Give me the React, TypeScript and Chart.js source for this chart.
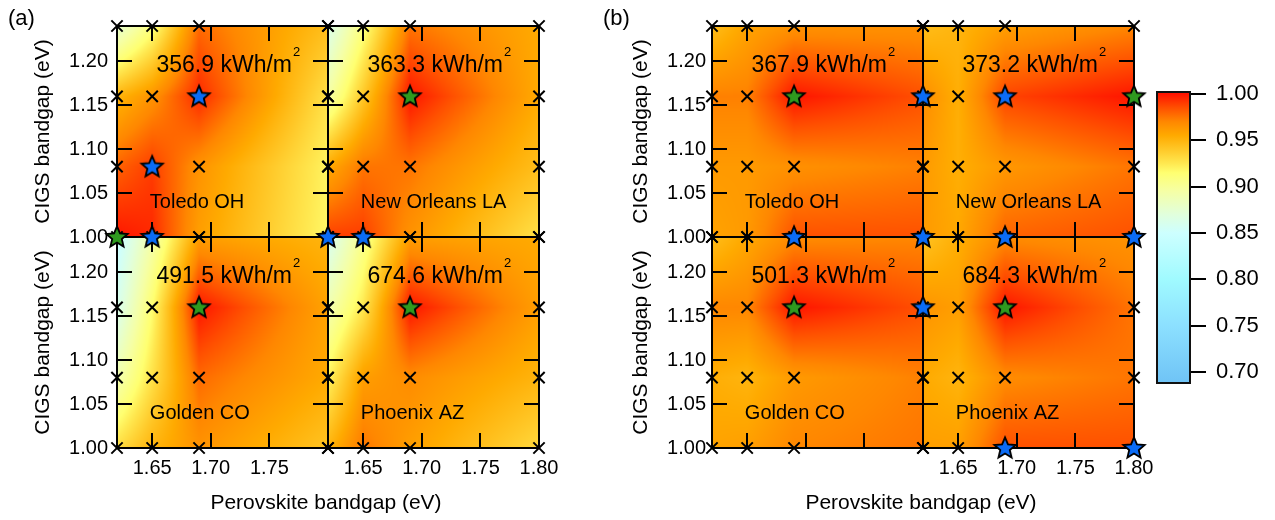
import React, { useEffect, useRef } from 'react';
import { Chart, registerables } from 'chart.js';

Chart.register(...registerables);

const FONT = "'Liberation Sans', Arial, Helvetica, sans-serif";

// ---------- data ----------
const perovskiteGaps = [1.62, 1.65, 1.69, 1.8];
const cigsGaps = [1.0, 1.08, 1.16, 1.24];
const xTickValues = [1.65, 1.7, 1.75, 1.8];
const yTickValues = [1.0, 1.05, 1.1, 1.15, 1.2];
const colorbarTicks = [0.7, 0.75, 0.8, 0.85, 0.9, 0.95, 1.0];

const cities = ['Toledo OH', 'New Orleans LA', 'Golden CO', 'Phoenix AZ'];
const energyA = ['356.9', '363.3', '491.5', '674.6'];
const energyB = ['367.9', '373.2', '501.3', '684.3'];

// rows: CIGS 1.00, 1.08, 1.16, 1.24 ; columns: perovskite 1.62, 1.65, 1.69, 1.80
const toledoA = [
  [1.0, 0.995, 0.96, 0.918],
  [0.98, 0.99, 0.965, 0.92],
  [0.95, 0.965, 0.995, 0.928],
  [0.875, 0.91, 0.978, 0.945],
];
const newOrleansA = [
  [0.99, 0.99, 0.965, 0.928],
  [0.955, 0.975, 0.975, 0.945],
  [0.895, 0.94, 1.0, 0.955],
  [0.862, 0.91, 0.975, 0.955],
];
const goldenA = [
  [0.93, 0.95, 0.965, 0.942],
  [0.89, 0.928, 0.978, 0.955],
  [0.86, 0.915, 1.0, 0.958],
  [0.845, 0.893, 0.96, 0.95],
];
const phoenixA = [
  [0.95, 0.975, 0.96, 0.932],
  [0.92, 0.96, 0.968, 0.95],
  [0.89, 0.925, 1.0, 0.96],
  [0.858, 0.905, 0.96, 0.955],
];
const toledoB = [
  [0.958, 0.962, 0.985, 0.985],
  [0.962, 0.962, 0.966, 0.972],
  [0.972, 0.972, 1.0, 0.985],
  [0.945, 0.958, 0.965, 0.966],
];
const newOrleansB = [
  [0.962, 0.956, 0.98, 0.985],
  [0.962, 0.953, 0.963, 0.975],
  [0.968, 0.953, 0.988, 1.0],
  [0.945, 0.95, 0.96, 0.97],
];
const goldenB = [
  [0.958, 0.96, 0.97, 0.975],
  [0.953, 0.95, 0.962, 0.972],
  [0.97, 0.97, 1.0, 0.985],
  [0.945, 0.956, 0.968, 0.97],
];
const phoenixB = [
  [0.96, 0.96, 0.985, 0.985],
  [0.955, 0.95, 0.968, 0.975],
  [0.965, 0.96, 1.0, 0.975],
  [0.942, 0.953, 0.968, 0.965],
];

// markers: x = simulated point, b = blue star, g = green star (same row/column order)
const toledoAMarks = ['gbxx', 'xbxx', 'xxbx', 'xxxx'];
const newOrleansAMarks = ['bbxx', 'xxxx', 'xxgx', 'xxxx'];
const goldenAMarks = ['xxxx', 'xxxx', 'xxgx', 'xxxx'];
const phoenixAMarks = ['xxxx', 'xxxx', 'xxgx', 'xxxx'];
const toledoBMarks = ['xxbb', 'xxxx', 'xxgb', 'xxxx'];
const newOrleansBMarks = ['xxbb', 'xxxx', 'xxbg', 'xxxx'];
const goldenBMarks = ['xxxx', 'xxxx', 'xxgb', 'xxxx'];
const phoenixBMarks = ['xxbb', 'xxxx', 'xxgx', 'xxxx'];

// ---------- style ----------
const cmapValues = [0.69, 0.75, 0.8, 0.85, 0.87, 0.895, 0.915, 0.925, 0.94, 0.955, 0.97, 0.985, 1.0];
const cmapColors = [
  [112, 196, 246], [140, 224, 255], [160, 250, 255], [205, 255, 255], [225, 255, 220],
  [245, 255, 165], [255, 255, 112], [255, 232, 80], [255, 200, 40], [255, 170, 0],
  [255, 135, 0], [255, 80, 0], [255, 20, 0],
];
const BLUE = '#0b6cf6';
const GREEN = '#2f9a1f';
const PLOT_TOP = 26;
const PLOT_BOTTOM = 448;
const TICK = 15;
const energyLabelX = 1.715;
const energyLabelY = 1.188;
const cityLabelX = 1.648;
const cityLabelY = 1.033;

function colorFor(v: number): number[] {
  if (v <= cmapValues[0]) return cmapColors[0];
  const n = cmapValues.length;
  if (v >= cmapValues[n - 1]) return cmapColors[n - 1];
  let i = 0;
  while (i < n - 2 && v > cmapValues[i + 1]) i++;
  const t = (v - cmapValues[i]) / (cmapValues[i + 1] - cmapValues[i]);
  const a = cmapColors[i], b = cmapColors[i + 1];
  return [0, 1, 2].map((k) => Math.round(a[k] + (b[k] - a[k]) * t));
}

function seg(arr: number[], v: number): [number, number] {
  let i = 0;
  while (i < arr.length - 2 && v > arr[i + 1]) i++;
  let t = (v - arr[i]) / (arr[i + 1] - arr[i]);
  t = Math.max(0, Math.min(1, t));
  return [i, t];
}

function interp(grid: number[][], xv: number, yv: number) {
  const [i, tx] = seg(perovskiteGaps, xv);
  const [j, ty] = seg(cigsGaps, yv);
  const v00 = grid[j][i], v10 = grid[j][i + 1], v01 = grid[j + 1][i], v11 = grid[j + 1][i + 1];
  return (v00 * (1 - tx) + v10 * tx) * (1 - ty) + (v01 * (1 - tx) + v11 * tx) * ty;
}

function makeStar(fill: string) {
  const size = 30;
  const c = document.createElement('canvas');
  c.width = size;
  c.height = size;
  const g = c.getContext('2d')!;
  const R = 11.2, r = R * 0.45, cx = 15, cy = 15.5;
  g.beginPath();
  for (let k = 0; k < 10; k++) {
    const ang = -Math.PI / 2 + (k * Math.PI) / 5;
    const rad = k % 2 === 0 ? R : r;
    const px = cx + rad * Math.cos(ang), py = cy + rad * Math.sin(ang);
    if (k === 0) g.moveTo(px, py);
    else g.lineTo(px, py);
  }
  g.closePath();
  g.fillStyle = fill;
  g.fill();
  g.lineWidth = 1.8;
  g.strokeStyle = '#000';
  g.lineJoin = 'miter';
  g.stroke();
  return c;
}

type Sub = { x: string; y: string; values: number[][]; marks: string[]; energy: string; city: string };
type Panel = {
  left: number; width: number; plotLeft: number; plotRight: number; label: string; labelX: number;
  titleOffset: number; yTickPad: number; leftXLabels: boolean; subplots: Sub[];
};

const panelA: Panel = {
  left: 0, width: 600, plotLeft: 117, plotRight: 539, label: '(a)', labelX: 8, titleOffset: 74, yTickPad: 9,
  leftXLabels: true,
  subplots: [
    { x: 'xL', y: 'yT', values: toledoA, marks: toledoAMarks, energy: energyA[0], city: cities[0] },
    { x: 'xR', y: 'yT', values: newOrleansA, marks: newOrleansAMarks, energy: energyA[1], city: cities[1] },
    { x: 'xL', y: 'yB', values: goldenA, marks: goldenAMarks, energy: energyA[2], city: cities[2] },
    { x: 'xR', y: 'yB', values: phoenixA, marks: phoenixAMarks, energy: energyA[3], city: cities[3] },
  ],
};
const panelB: Panel = {
  left: 590, width: 590, plotLeft: 122, plotRight: 544, label: '(b)', labelX: 13, titleOffset: 71, yTickPad: 6,
  leftXLabels: false,
  subplots: [
    { x: 'xL', y: 'yT', values: toledoB, marks: toledoBMarks, energy: energyB[0], city: cities[0] },
    { x: 'xR', y: 'yT', values: newOrleansB, marks: newOrleansBMarks, energy: energyB[1], city: cities[1] },
    { x: 'xL', y: 'yB', values: goldenB, marks: goldenBMarks, energy: energyB[2], city: cities[2] },
    { x: 'xR', y: 'yB', values: phoenixB, marks: phoenixBMarks, energy: energyB[3], city: cities[3] },
  ],
};

function drawHeatmap(ctx: CanvasRenderingContext2D, xs: any, ys: any, values: number[][]) {
  const left = Math.round(xs.left), right = Math.round(xs.right);
  const top = Math.round(ys.top), bottom = Math.round(ys.bottom);
  const w = right - left, h = bottom - top;
  const off = document.createElement('canvas');
  off.width = w;
  off.height = h;
  const octx = off.getContext('2d')!;
  const img = octx.createImageData(w, h);
  for (let j = 0; j < h; j++) {
    const yv = ys.getValueForPixel(top + j + 0.5);
    for (let i = 0; i < w; i++) {
      const xv = xs.getValueForPixel(left + i + 0.5);
      const c = colorFor(interp(values, xv, yv));
      const k = (j * w + i) * 4;
      img.data[k] = c[0];
      img.data[k + 1] = c[1];
      img.data[k + 2] = c[2];
      img.data[k + 3] = 255;
    }
  }
  octx.putImageData(img, 0, 0);
  ctx.drawImage(off, left, top);
}

function drawFrame(ctx: CanvasRenderingContext2D, xs: any, ys: any) {
  ctx.save();
  ctx.strokeStyle = '#000';
  ctx.lineWidth = 2;
  ctx.beginPath();
  const t = Math.round(ys.top), b = Math.round(ys.bottom), l = Math.round(xs.left), r = Math.round(xs.right);
  for (const v of xTickValues) {
    const px = Math.round(xs.getPixelForValue(v));
    ctx.moveTo(px, b);
    ctx.lineTo(px, b - TICK);
    ctx.moveTo(px, t);
    ctx.lineTo(px, t + TICK);
  }
  for (const v of yTickValues) {
    const py = Math.round(ys.getPixelForValue(v));
    ctx.moveTo(l, py);
    ctx.lineTo(l + TICK, py);
    ctx.moveTo(r, py);
    ctx.lineTo(r - TICK, py);
  }
  ctx.stroke();
  ctx.strokeRect(l, t, r - l, b - t);
  ctx.restore();
}

function drawLabels(ctx: CanvasRenderingContext2D, xs: any, ys: any, sp: Sub) {
  ctx.save();
  ctx.fillStyle = '#000';
  ctx.textBaseline = 'alphabetic';
  ctx.textAlign = 'left';
  const main = sp.energy + ' kWh/m';
  ctx.font = `23px ${FONT}`;
  const w1 = ctx.measureText(main).width;
  ctx.font = `13px ${FONT}`;
  const w2 = ctx.measureText('2').width;
  const cx = xs.getPixelForValue(energyLabelX);
  const by = ys.getPixelForValue(energyLabelY);
  const start = cx - (w1 + w2 + 1) / 2;
  ctx.font = `23px ${FONT}`;
  ctx.fillText(main, start, by);
  ctx.font = `13px ${FONT}`;
  ctx.fillText('2', start + w1 + 1, by - 16);
  ctx.font = `20px ${FONT}`;
  ctx.fillText(sp.city, xs.getPixelForValue(cityLabelX), ys.getPixelForValue(cityLabelY));
  ctx.restore();
}

function markerDatasets(sp: Sub, blueStar: HTMLCanvasElement, greenStar: HTMLCanvasElement) {
  const pts: Record<string, { x: number; y: number }[]> = { x: [], b: [], g: [] };
  sp.marks.forEach((row, j) =>
    row.split('').forEach((code, i) => pts[code].push({ x: perovskiteGaps[i], y: cigsGaps[j] }))
  );
  const common = { xAxisID: sp.x, yAxisID: sp.y, clip: false as any, showLine: false };
  return [
    {
      ...common, data: pts.x, pointStyle: 'crossRot', pointRadius: 8, borderWidth: 2, pointBorderWidth: 2,
      borderColor: '#000', backgroundColor: '#000', order: 2,
    },
    { ...common, data: pts.b, pointStyle: blueStar, pointRadius: 12, borderWidth: 0, order: 1 },
    { ...common, data: pts.g, pointStyle: greenStar, pointRadius: 12, borderWidth: 0, order: 1 },
  ];
}

function panelConfig(p: Panel, blueStar: HTMLCanvasElement, greenStar: HTMLCanvasElement): any {
  const tickFont = { family: FONT, size: 20 };
  const yScale = (weight: number) => ({
    type: 'linear', axis: 'y', position: 'left', stack: 'cigs', stackWeight: 1, weight,
    min: cigsGaps[0], max: cigsGaps[cigsGaps.length - 1],
    afterBuildTicks: (s: any) => { s.ticks = yTickValues.map((value) => ({ value })); },
    afterFit: (s: any) => { s.width = p.plotLeft; },
    grid: { display: false, drawTicks: false },
    border: { display: false },
    ticks: {
      font: tickFont, color: '#000', padding: p.yTickPad, autoSkip: false,
      callback: (v: any) => Number(v).toFixed(2),
    },
  });
  const xScale = (weight: number, show: (i: number) => boolean) => ({
    type: 'linear', axis: 'x', position: 'bottom', stack: 'perov', stackWeight: 1, weight,
    min: perovskiteGaps[0], max: perovskiteGaps[perovskiteGaps.length - 1],
    afterBuildTicks: (s: any) => { s.ticks = xTickValues.map((value) => ({ value })); },
    afterFit: (s: any) => { s.height = 520 - PLOT_BOTTOM; },
    grid: { display: false, drawTicks: false },
    border: { display: false },
    ticks: {
      font: tickFont, color: '#000', padding: 8, autoSkip: false, maxRotation: 0, minRotation: 0,
      callback: (v: any, i: number) => (show(i) ? Number(v).toFixed(2) : ''),
    },
  });
  const plugin = {
    id: 'heatPanel',
    beforeDatasetsDraw(chart: any) {
      const ctx = chart.ctx;
      for (const sp of p.subplots) {
        drawHeatmap(ctx, chart.scales[sp.x], chart.scales[sp.y], sp.values);
      }
      for (const sp of p.subplots) drawFrame(ctx, chart.scales[sp.x], chart.scales[sp.y]);
    },
    afterDatasetsDraw(chart: any) {
      const ctx = chart.ctx;
      for (const sp of p.subplots) drawLabels(ctx, chart.scales[sp.x], chart.scales[sp.y], sp);
      ctx.save();
      ctx.fillStyle = '#000';
      ctx.font = `22px ${FONT}`;
      ctx.textAlign = 'left';
      ctx.textBaseline = 'alphabetic';
      ctx.fillText(p.label, p.labelX, 25);
      const area = chart.chartArea;
      ctx.font = `21px ${FONT}`;
      ctx.textAlign = 'center';
      ctx.fillText('Perovskite bandgap (eV)', (area.left + area.right) / 2 - 2, 509);
      for (const id of ['yT', 'yB']) {
        const ys = chart.scales[id];
        ctx.save();
        ctx.translate(area.left - p.titleOffset, (ys.top + ys.bottom) / 2);
        ctx.rotate(-Math.PI / 2);
        ctx.textBaseline = 'middle';
        ctx.fillText('CIGS bandgap (eV)', 0, 0);
        ctx.restore();
      }
      ctx.restore();
    },
  };
  return {
    type: 'scatter',
    data: { datasets: p.subplots.flatMap((sp) => markerDatasets(sp, blueStar, greenStar)) },
    options: {
      animation: false, responsive: false, devicePixelRatio: 1, events: [],
      layout: { autoPadding: false, padding: { left: 0, top: PLOT_TOP, right: p.width - p.plotRight, bottom: 0 } },
      plugins: { legend: { display: false }, tooltip: { enabled: false } },
      scales: {
        xL: xScale(0, (i) => p.leftXLabels && i < xTickValues.length - 1),
        xR: xScale(1, () => true),
        yT: yScale(1),
        yB: yScale(0),
      },
    },
    plugins: [plugin],
  };
}

function colorbarConfig(): any {
  const cmin = 0.688, cmax = 1.002;
  const plugin = {
    id: 'colorbar',
    beforeDatasetsDraw(chart: any) {
      const ctx = chart.ctx;
      const ys = chart.scales.y;
      const area = chart.chartArea;
      const y0 = ys.getPixelForValue(cmax), y1 = ys.getPixelForValue(cmin);
      const grad = ctx.createLinearGradient(0, y0, 0, y1);
      const rgb = (c: number[]) => `rgb(${c[0]},${c[1]},${c[2]})`;
      grad.addColorStop(0, rgb(colorFor(cmax)));
      for (let k = cmapValues.length - 1; k >= 0; k--) {
        const off = (ys.getPixelForValue(cmapValues[k]) - y0) / (y1 - y0);
        if (off >= 0 && off <= 1) grad.addColorStop(off, rgb(cmapColors[k]));
      }
      grad.addColorStop(1, rgb(colorFor(cmin)));
      ctx.save();
      ctx.fillStyle = grad;
      ctx.fillRect(area.left, area.top, area.right - area.left, area.bottom - area.top);
      ctx.strokeStyle = '#111';
      ctx.lineWidth = 2;
      ctx.strokeRect(area.left, area.top, area.right - area.left, area.bottom - area.top);
      ctx.restore();
    },
  };
  return {
    type: 'scatter',
    data: { datasets: [] },
    options: {
      animation: false, responsive: false, devicePixelRatio: 1, events: [],
      layout: { autoPadding: false, padding: { left: 7, top: 92, right: 0, bottom: 137 } },
      plugins: { legend: { display: false }, tooltip: { enabled: false } },
      scales: {
        x: { type: 'linear', display: false, min: 0, max: 1 },
        y: {
          type: 'linear', position: 'right', min: cmin, max: cmax,
          afterBuildTicks: (s: any) => { s.ticks = colorbarTicks.map((value) => ({ value })); },
          afterFit: (s: any) => { s.width = 85; },
          grid: { display: true, drawOnChartArea: false, drawTicks: true, tickLength: 16, color: '#000', lineWidth: 2 },
          border: { display: false },
          ticks: {
            font: { family: FONT, size: 22 }, color: '#000', padding: 10, autoSkip: false,
            callback: (v: any) => Number(v).toFixed(2),
          },
        },
      },
    },
    plugins: [plugin],
  };
}

export default function App() {
  const aRef = useRef<HTMLCanvasElement>(null);
  const bRef = useRef<HTMLCanvasElement>(null);
  const cRef = useRef<HTMLCanvasElement>(null);
  useEffect(() => {
    const blueStar = makeStar(BLUE);
    const greenStar = makeStar(GREEN);
    const charts = [
      new Chart(aRef.current!, panelConfig(panelA, blueStar, greenStar)),
      new Chart(bRef.current!, panelConfig(panelB, blueStar, greenStar)),
      new Chart(cRef.current!, colorbarConfig()),
    ];
    return () => charts.forEach((c) => c.destroy());
  }, []);
  const abs = (left: number, width: number): React.CSSProperties => ({
    position: 'absolute', left, top: 0, width, height: 520,
  });
  return (
    <div style={{ position: 'fixed', left: 0, top: 0, width: 1275, height: 520, background: '#fff' }}>
      <canvas ref={aRef} width={panelA.width} height={520} style={abs(panelA.left, panelA.width)} />
      <canvas ref={bRef} width={panelB.width} height={520} style={abs(panelB.left, panelB.width)} />
      <canvas ref={cRef} width={125} height={520} style={abs(1150, 125)} />
    </div>
  );
}
